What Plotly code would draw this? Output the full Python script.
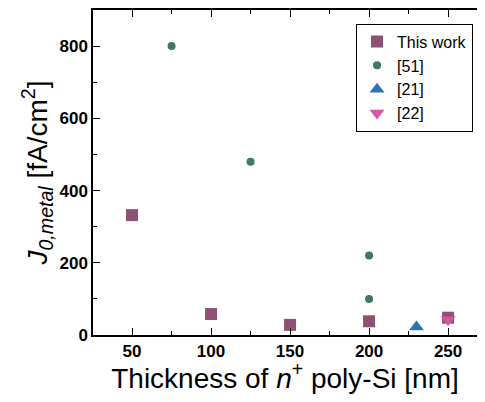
import plotly.graph_objects as go

# Data
tw_x = [50, 100, 150, 200, 250]
tw_y = [332, 58, 28, 38, 48]
r51_x = [75, 125, 200, 200]
r51_y = [800, 480, 220, 100]
r21_x = [230]
r21_y = [22]
r22_x = [250]
r22_y = [42]

fig = go.Figure()
fig.add_trace(go.Scatter(x=tw_x, y=tw_y, mode="markers", name="This work",
                         marker=dict(symbol="square", size=12, color="#8E5173")))
fig.add_trace(go.Scatter(x=r51_x, y=r51_y, mode="markers", name="[51]",
                         marker=dict(symbol="circle", size=8, color="#3F7A5C")))
fig.add_trace(go.Scatter(x=r21_x, y=r21_y, mode="markers", name="[21]",
                         marker=dict(symbol="triangle-up", size=13, color="#2F73B5")))
fig.add_trace(go.Scatter(x=r22_x, y=r22_y, mode="markers", name="[22]",
                         marker=dict(symbol="triangle-down", size=13, color="#D457A3")))

FONT = "Arial, Liberation Sans, sans-serif"
axis_common = dict(showline=True, linecolor="black", linewidth=1.5,
                   ticks="inside", ticklen=7, tickwidth=1, tickcolor="black",
                   showgrid=False, zeroline=False,
                   tickfont=dict(family=FONT, size=17, color="black", weight=700))

fig.update_xaxes(range=[25.3, 268.3], tickvals=[50, 100, 150, 200, 250], mirror="ticks",
                 ticktext=["50", "100", "150", "200", "250"],
                 minor=dict(tickvals=[75, 125, 175, 225], ticks="inside", ticklen=4, tickcolor="black"),
                 title=dict(text="Thickness of <i>n</i><sup>+</sup> poly-Si [nm]",
                            font=dict(family=FONT, size=28, color="black"), standoff=6),
                 **axis_common)
fig.update_yaxes(range=[0, 900], tickvals=[0, 200, 400, 600, 800], mirror=False,
                 ticktext=["0", "200", "400", "600", "800"],
                 minor=dict(tickvals=[100, 300, 500, 700], ticks="inside", ticklen=4, tickcolor="black"),
                 title=dict(text="<i>J</i><sub><i>0,metal</i></sub> [fA/cm<sup>2</sup>]",
                            font=dict(family=FONT, size=28, color="black"), standoff=4),
                 **axis_common)

fig.update_layout(width=469, height=386, margin=dict(l=85, r=0, t=2, b=59, autoexpand=False),
                  plot_bgcolor="white", paper_bgcolor="white",
                  legend=dict(x=0.685, y=0.958, xanchor="left", yanchor="top",
                              bordercolor="black", borderwidth=1, bgcolor="white",
                              font=dict(family=FONT, size=16, color="black"),
                              tracegroupgap=0),
                  showlegend=True)

fig.write_html("out.html")
